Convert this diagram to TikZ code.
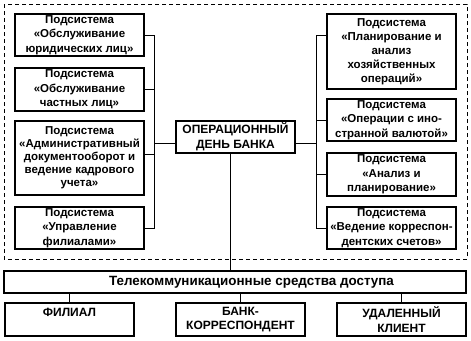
\documentclass[tikz,border=0pt]{standalone}
\usepackage{fontspec}
\setmainfont{Liberation Sans}
\usetikzlibrary{calc}

\tikzset{
  subsys/.style={draw, line width=1.8pt, fill=white, inner sep=0pt, align=center,
    minimum width=129pt, font=\bfseries\fontsize{11.5}{14.5}\selectfont},
  caps/.style={subsys, font=\bfseries\fontsize{12}{14.5}\selectfont},
  wire/.style={line width=0.9pt}
}

\begin{document}
\begin{tikzpicture}[x=1pt, y=-1pt]
        \useasboundingbox (0,0) rectangle (471,340);

        \draw [line width=0.9pt, dash pattern=on 4pt off 3pt] (4,4) rectangle (467,259);

        % left column
        \node [subsys, minimum height=42pt] (ls1) at (79.5,35) {Подсистема\\«Обслуживание\\юридических лиц»};
        \node [subsys, minimum height=43pt] (ls2) at (79.5,89.5) {Подсистема\\«Обслуживание\\частных лиц»};
        \node [subsys, minimum height=74pt, font=\bfseries\fontsize{11.5}{13}\selectfont] (ls3) at (79.5,158) {Подсистема\\«Административный\\документооборот и\\ведение кадрового\\учета»};
        \node [subsys, minimum height=42pt] (ls4) at (79.5,228) {Подсистема\\«Управление\\филиалами»};

        % right column
        \node [subsys, minimum height=75pt, font=\bfseries\fontsize{11.5}{14}\selectfont] (rs1) at (391.5,51.5) {Подсистема\\«Планирование и\\анализ\\хозяйственных\\операций»};
        \node [subsys, minimum height=42pt] (rs2) at (391.5,120) {Подсистема\\«Операции с ино-\\странной валютой»};
        \node [subsys, minimum height=43pt] (rs3) at (391.5,174.5) {Подсистема\\«Анализ и\\планирование»};
        \node [subsys, minimum height=42pt] (rs4) at (391.5,228) {Подсистема\\«Ведение корреспон-\\дентских счетов»};

        \node [caps, minimum width=119pt, minimum height=32pt] (odb) at (235.5,137) {ОПЕРАЦИОННЫЙ\\ДЕНЬ БАНКА};

        \node [subsys, minimum width=462pt, minimum height=22pt] (tele) at (235,282) {};
        \node [font=\bfseries\fontsize{13.4}{15}\selectfont, inner sep=0pt] (teletxt) at (251.5,282) {Телекоммуникационные средства доступа};

        \node [caps, minimum height=33pt] (fil) at (69.5,319.5) {ФИЛИАЛ\\\mbox{}};
        \node [caps, minimum height=33pt] (bkr) at (240.5,319.5) {БАНК-\\КОРРЕСПОНДЕНТ};
        \node [caps, minimum height=33pt] (rcl) at (401.5,319.5) {УДАЛЕННЫЙ\\КЛИЕНТ};

        \coordinate (busl) at (154,0);
        \coordinate (busr) at (316,0);

        \begin{scope}[wire]
        \draw (ls1.east) -- (ls1.east -| busl) -- (ls4.east -| busl) -- (ls4.east);
        \draw (ls2.east) -- (ls2.east -| busl);
        \draw ([yshift=4pt]ls3.east) -- ([yshift=4pt]ls3.east -| busl);
        \draw ([yshift=-6pt]odb.west) -- ([yshift=-6pt]odb.west -| busl);

        \draw ([yshift=16.5pt]rs1.west) -- ([yshift=16.5pt]rs1.west -| busr) -- (rs4.west -| busr) -- (rs4.west);
        \draw (rs2.west) -- (rs2.west -| busr);
        \draw (rs3.west) -- (rs3.west -| busr);
        \draw ([yshift=-6pt]odb.east) -- ([yshift=-6pt]odb.east -| busr);

        \draw ([xshift=-5.5pt]odb.south) -- ([xshift=-5.5pt]odb.south |- tele.north);
        \draw (fil.north) -- (fil.north |- tele.south);
        \draw (bkr.north) -- (bkr.north |- tele.south);
        \draw (rcl.north) -- (rcl.north |- tele.south);
        \end{scope}

\end{tikzpicture}
\end{document}
